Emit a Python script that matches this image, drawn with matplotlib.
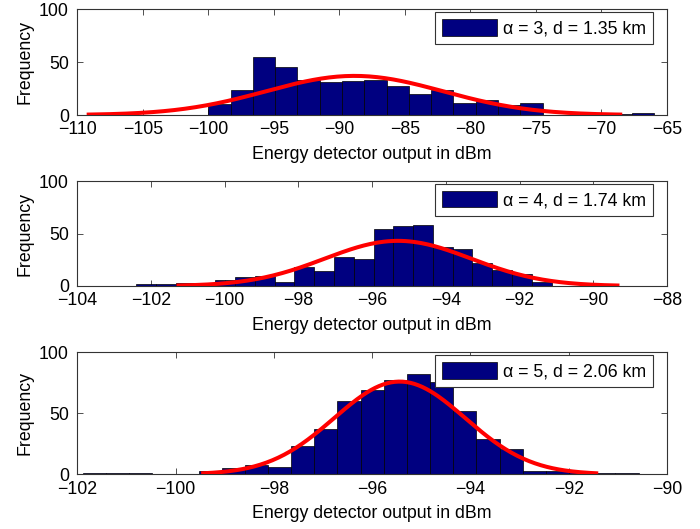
import numpy as np
import matplotlib
matplotlib.use("Agg")
import matplotlib.pyplot as plt

plt.rcParams['font.family'] = ['Liberation Sans', 'DejaVu Sans']
plt.rcParams['font.size'] = 12.8

# ---- data ----
labels = ["α = 3, d = 1.35 km", "α = 4, d = 1.74 km", "α = 5, d = 2.06 km"]

counts_a3 = [10, 24, 55, 45, 33, 31, 32, 33, 27, 20, 24, 11, 14, 9, 11, 0, 0, 0, 1, 2]
edge0_a3, width_a3 = -100.0, 1.70

counts_a4 = [2, 2, 3, 1, 6, 9, 10, 4, 18, 14, 28, 26, 54, 57, 58, 37, 35, 22, 15, 11, 4]
edge0_a4, width_a4 = -102.40, 0.5365

counts_a5 = [1, 1, 1, 0, 0, 3, 5, 8, 6, 23, 37, 60, 69, 77, 82, 76, 52, 29, 21, 3, 3, 2, 1, 1]
edge0_a5, width_a5 = -101.89, 0.4713

# fitted normal curves (mean, sigma, peak height)
fit_a3 = (-88.85, 6.76, 37.0)
fit_a4 = (-95.30, 1.985, 43.0)
fit_a5 = (-95.44, 1.333, 76.0)

xlims = [(-110, -65), (-104, -88), (-102, -90)]
xticks = [np.arange(-110, -64, 5), np.arange(-104, -87, 2), np.arange(-102, -89, 2)]
yticks = [0, 50, 100]

panels = [
    (counts_a3, edge0_a3, width_a3, fit_a3),
    (counts_a4, edge0_a4, width_a4, fit_a4),
    (counts_a5, edge0_a5, width_a5, fit_a5),
]

W, H = 700, 529
fig = plt.figure(figsize=(W / 100, H / 100), dpi=100)

# axes boxes in pixels (left, top, right, bottom)
boxes = [(77.3, 9.3, 667.0, 115.0), (77.3, 181.0, 667.0, 286.0), (77.3, 352.3, 667.0, 474.3)]

for (counts, e0, w, fit), box, lab, xl, xt in zip(panels, boxes, labels, xlims, xticks):
    l, t, r, b = box
    ax = fig.add_axes([l / W, 1 - b / H, (r - l) / W, (b - t) / H])
    counts = np.asarray(counts, dtype=float)
    lefts = e0 + w * np.arange(len(counts))
    ax.bar(lefts, counts, width=w, align='edge', color='#000080',
           edgecolor='black', linewidth=0.5, label=lab, zorder=2)
    mu, sig, pk = fit
    xs = np.linspace(mu - 3 * sig, mu + 3 * sig, 200)
    ax.plot(xs, pk * np.exp(-0.5 * ((xs - mu) / sig) ** 2), color='#ff0000',
            linewidth=2.9, zorder=3)
    ax.set_xlim(*xl)
    ax.set_ylim(0, 100)
    ax.set_xticks(xt)
    ax.set_yticks(yticks)
    ax.tick_params(direction='in', top=True, right=True, length=4, width=0.6,
                   color='#333333', pad=4.5)
    ax.tick_params(axis='y', pad=6)
    for s in ax.spines.values():
        s.set_color('#333333')
        s.set_linewidth(0.8)
    ax.set_xlabel('Energy detector output in dBm', labelpad=5.5)
    ax.set_ylabel('Frequency', labelpad=4)
    ax_h = b - t
    leg = ax.legend(loc='upper right',
                    bbox_to_anchor=((653 - l) / (r - l), 1 - 3.0 / ax_h),
                    borderaxespad=0, fancybox=False, framealpha=1,
                    edgecolor='#333333', handlelength=3.1, handleheight=1.05,
                    handletextpad=0.35, borderpad=0.38)
    leg.get_frame().set_linewidth(0.8)
    leg.set_zorder(5)

fig.savefig('out.png', dpi=100)
